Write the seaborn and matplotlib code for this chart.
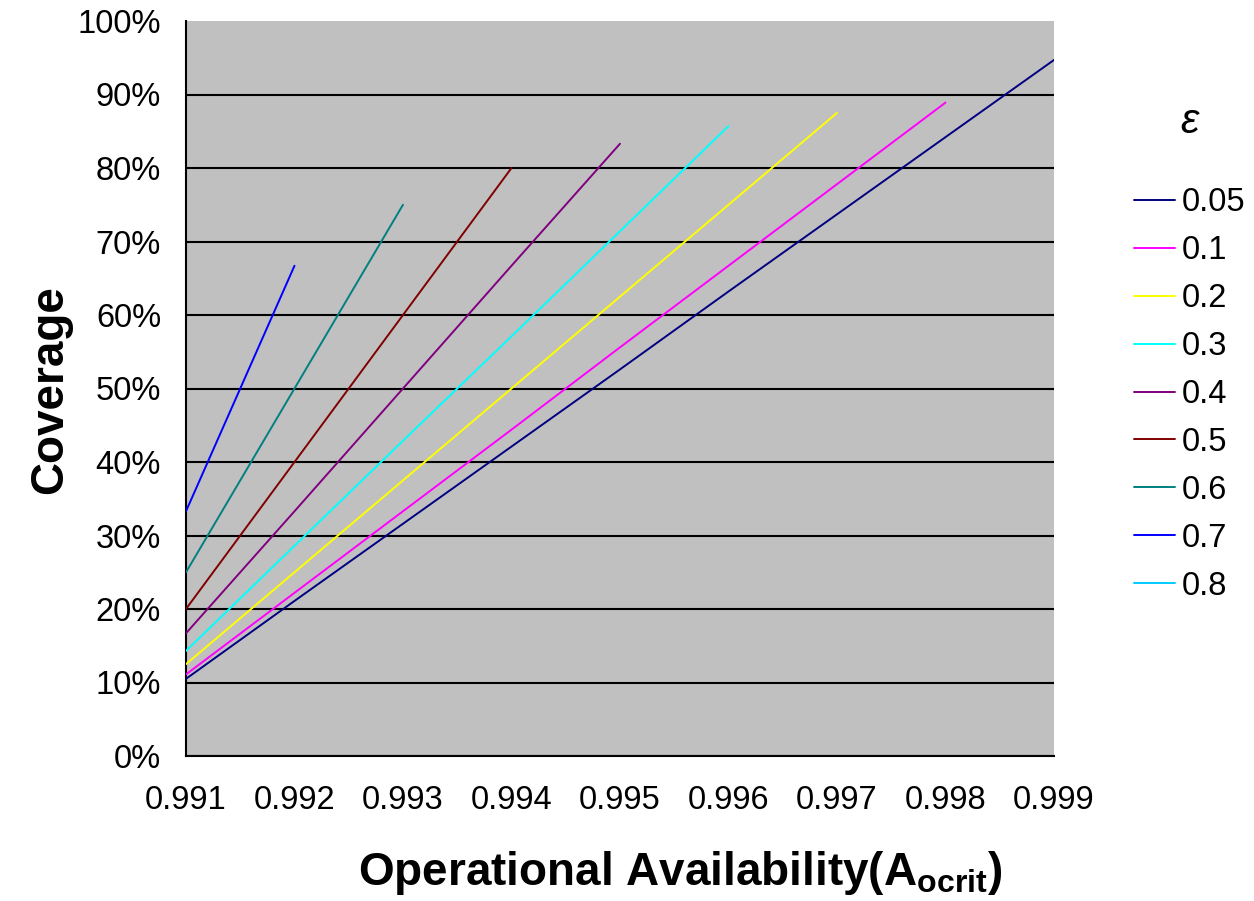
import matplotlib
matplotlib.use("Agg")
import matplotlib.pyplot as plt
from matplotlib.lines import Line2D
from matplotlib.ticker import PercentFormatter
import numpy as np
import pandas as pd
import seaborn as sns

# Operational availability thresholds on the x axis
availability = [0.991, 0.992, 0.993, 0.994, 0.995, 0.996, 0.997, 0.998, 0.999]

# Required coverage for each epsilon value (fraction, one entry per availability step)
eps_labels = ["0.05", "0.1", "0.2", "0.3", "0.4", "0.5", "0.6", "0.7", "0.8"]
cov_005 = [0.105, 0.211, 0.316, 0.421, 0.526, 0.632, 0.737, 0.842, 0.947]
cov_01 = [0.111, 0.222, 0.333, 0.444, 0.556, 0.667, 0.778, 0.889]
cov_02 = [0.125, 0.250, 0.375, 0.500, 0.625, 0.750, 0.875]
cov_03 = [0.143, 0.286, 0.429, 0.571, 0.714, 0.857]
cov_04 = [0.167, 0.333, 0.500, 0.667, 0.833]
cov_05 = [0.200, 0.400, 0.600, 0.800]
cov_06 = [0.250, 0.500, 0.750]
cov_07 = [0.333, 0.667]
cov_08 = []

series_colors = ["#000080", "#FF00FF", "#FFFF00", "#00FFFF", "#800080",
                 "#800000", "#008080", "#0000FF", "#00CCFF"]

y_ticks = [0.0, 0.1, 0.2, 0.3, 0.4, 0.5, 0.6, 0.7, 0.8, 0.9, 1.0]

all_cov = [cov_005, cov_01, cov_02, cov_03, cov_04, cov_05, cov_06, cov_07, cov_08]
rows = []
for lab, cov in zip(eps_labels, all_cov):
    for a, c in zip(availability, cov):
        rows.append({"epsilon": lab, "availability": a, "coverage": c})
df = pd.DataFrame(rows)

sns.set_theme(style="white")
plt.rcParams["font.family"] = ["Liberation Sans", "DejaVu Sans"]
plt.rcParams["text.color"] = "black"
plt.rcParams["mathtext.fontset"] = "custom"
plt.rcParams["mathtext.rm"] = "Liberation Sans"
plt.rcParams["mathtext.bf"] = "Liberation Sans:bold"
plt.rcParams["mathtext.it"] = "Liberation Sans:italic"

W, H = 1254, 901
fig = plt.figure(figsize=(W / 100, H / 100), dpi=100)
fig.patch.set_facecolor("white")
ax = fig.add_axes([186 / W, 1 - 756 / H, 868 / W, 735 / H])
ax.set_facecolor("#C0C0C0")

palette = dict(zip(eps_labels, series_colors))
present = [l for l in eps_labels if l in set(df["epsilon"])]
sns.lineplot(data=df, x="availability", y="coverage", hue="epsilon",
             hue_order=present, palette=palette, linewidth=1.4,
             legend=False, ax=ax, zorder=3)

ax.set_xlim(availability[0], availability[-1])
ax.set_ylim(0, 1.0)
ax.set_xticks(availability)
ax.set_xticklabels([f"{a:.3f}" for a in availability])
ax.set_yticks(y_ticks)
ax.yaxis.set_major_formatter(PercentFormatter(1.0, decimals=0))
ax.grid(axis="y", color="black", linewidth=1.5, zorder=1)
ax.grid(axis="x", visible=False)
ax.set_axisbelow(True)
# no gridline along the top edge of the plot area
ax.get_ygridlines()[-1].set_visible(False)

for side in ["top", "right"]:
    ax.spines[side].set_visible(False)
for side in ["left", "bottom"]:
    ax.spines[side].set_color("black")
    ax.spines[side].set_linewidth(1.5)

ax.tick_params(axis="both", direction="out", length=8, width=1.5,
               color="black", labelsize=23.5, labelcolor="black")
ax.tick_params(axis="y", pad=10)
ax.tick_params(axis="x", pad=13)
ax.set_xlabel("")
ax.set_ylabel("")

fig.text(50 / W, 1 - 390 / H, "Coverage", rotation=90, ha="center",
         va="center", fontsize=33, fontweight="bold", color="black")
fig.text(680 / W, 1 - 873 / H, r"Operational Availability(A$_\mathbf{ocrit}$)",
         ha="center", va="center", fontsize=33, fontweight="bold", color="black")

handles = [Line2D([0], [0], color=c, linewidth=1.4) for c in series_colors]
leg = fig.legend(handles, eps_labels, loc="upper left",
                 bbox_to_anchor=(1121 / W, 1 - 174 / H), frameon=False,
                 fontsize=23.5, handlelength=1.25, handletextpad=0.22,
                 labelspacing=0.52, borderaxespad=0)
for t in leg.get_texts():
    t.set_color("black")
fig.text(1190 / W, 1 - 122 / H, r"$\varepsilon$", ha="center", va="center",
         fontsize=30, style="italic", color="black")

fig.savefig("out.png", dpi=100, facecolor="white")
